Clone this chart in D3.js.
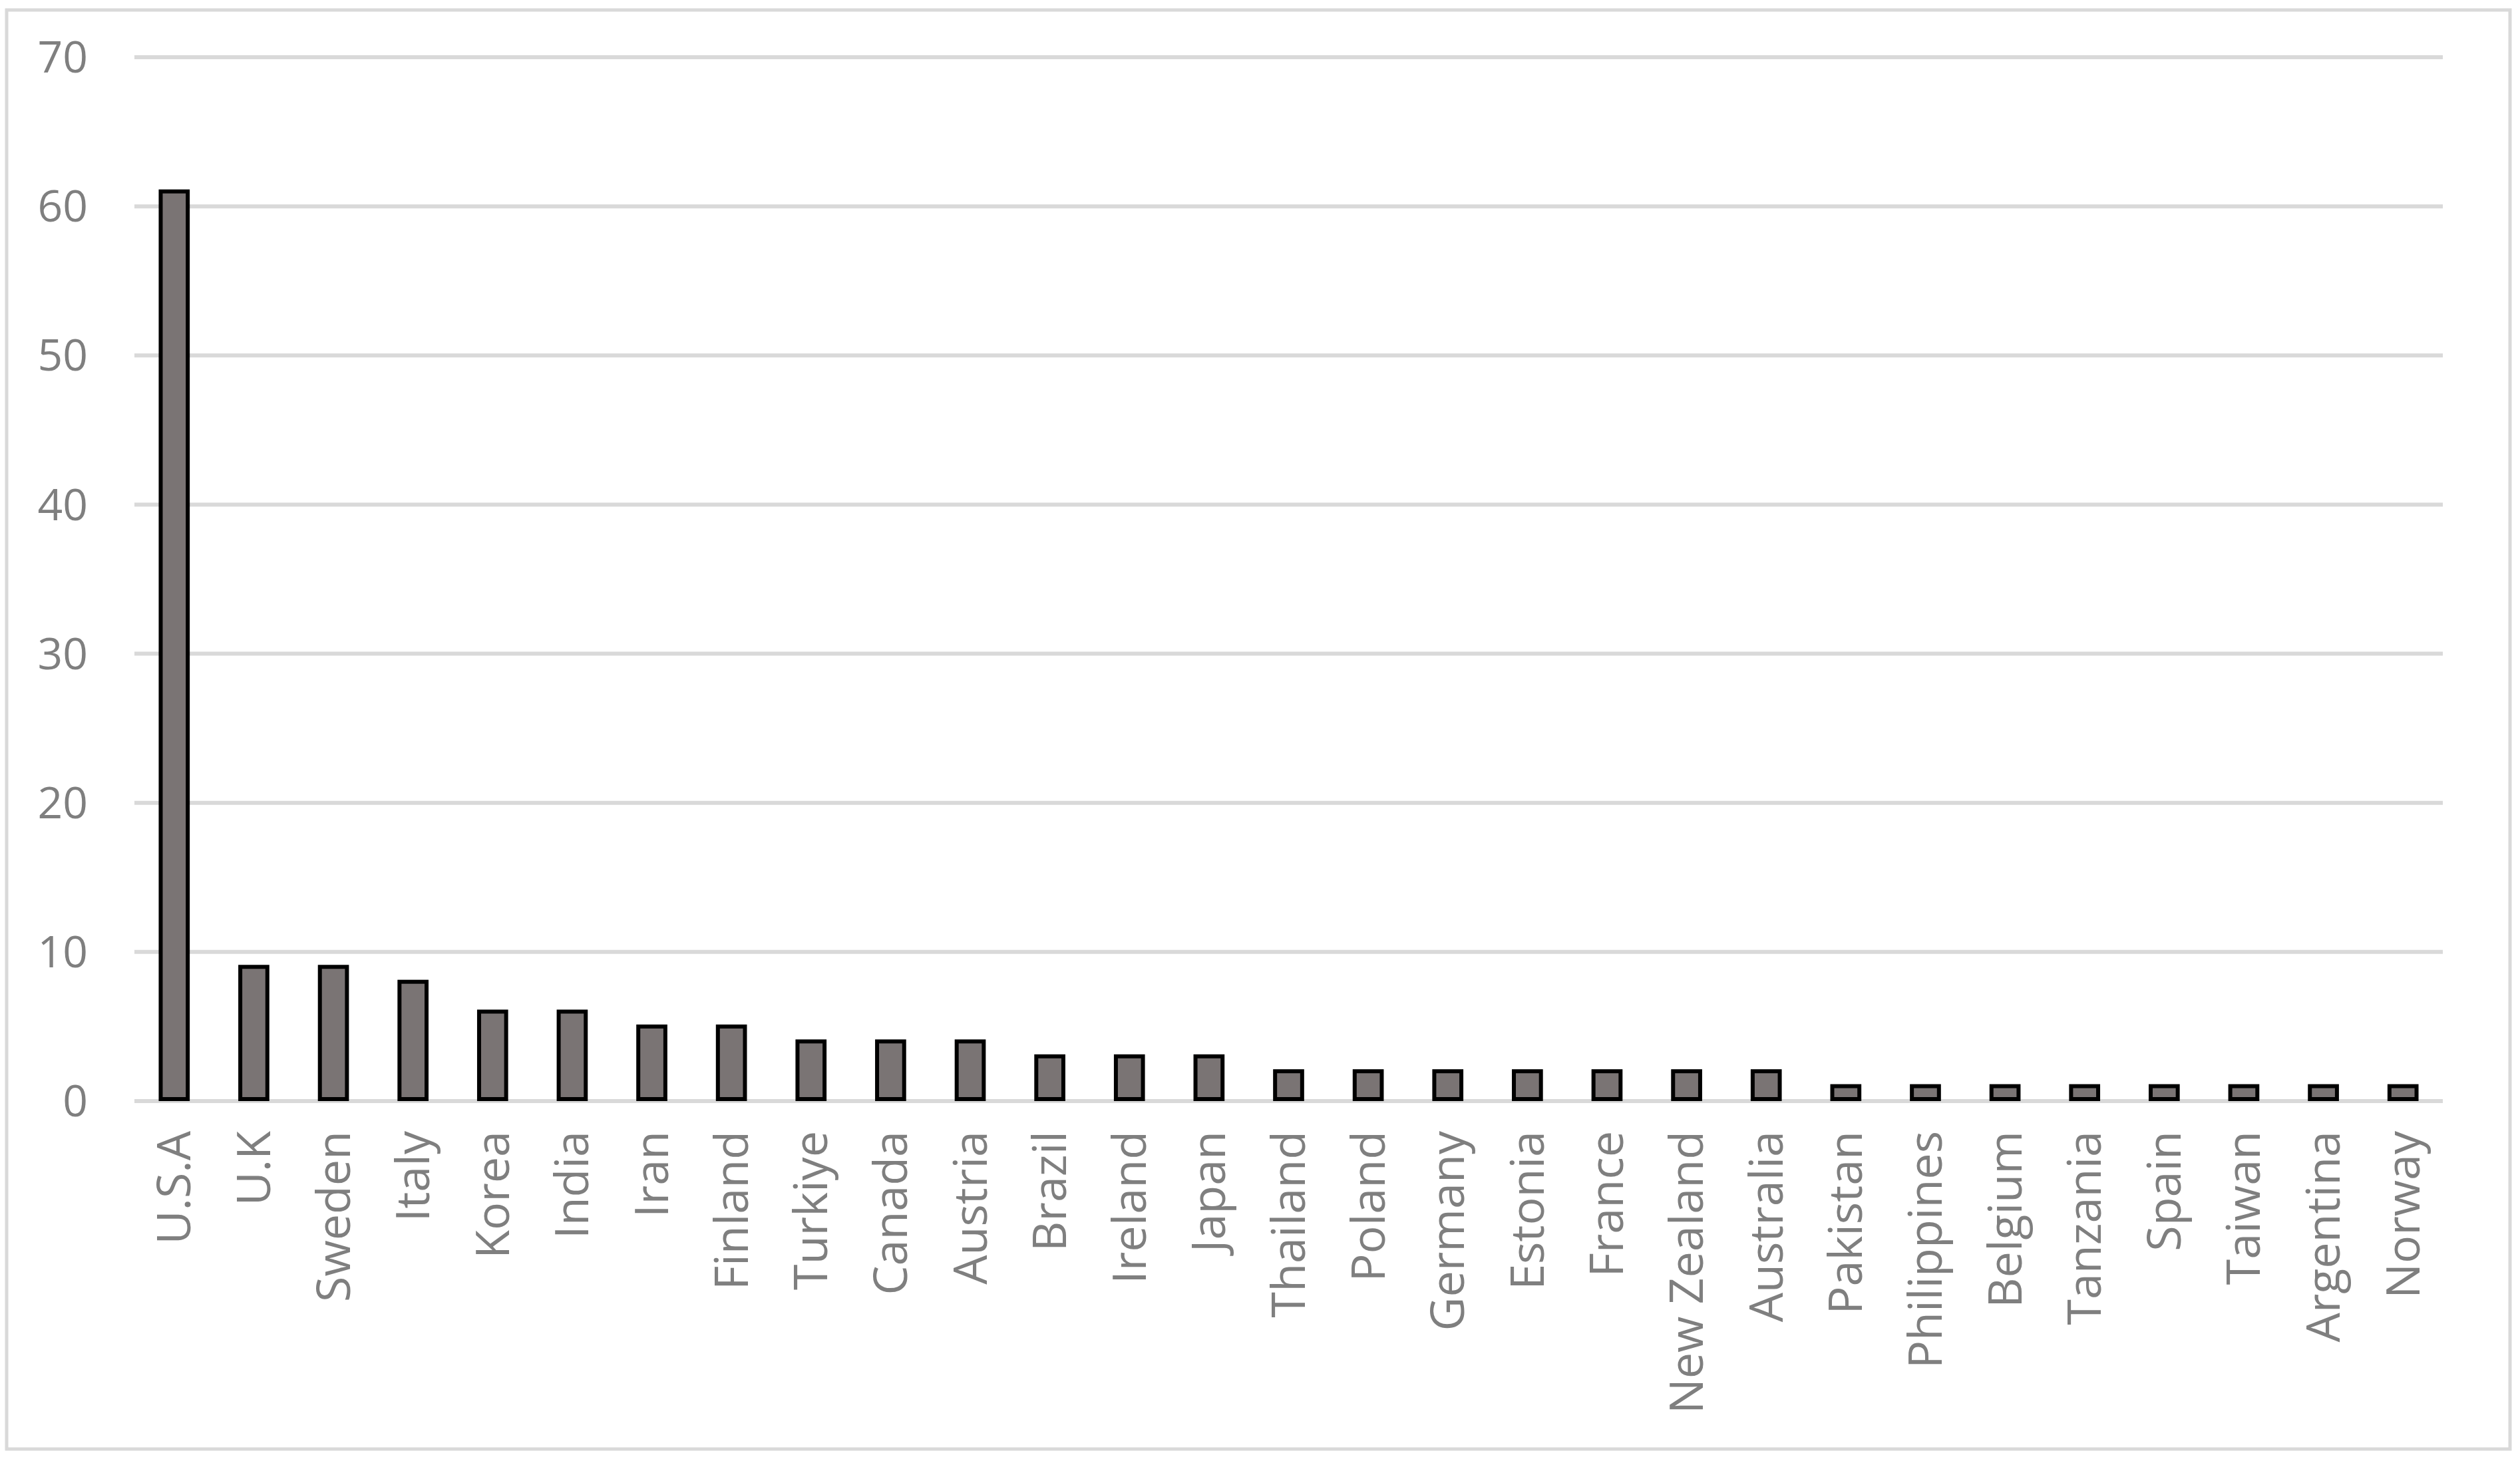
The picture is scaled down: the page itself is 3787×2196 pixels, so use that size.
<!DOCTYPE html>
<html>
<head>
<meta charset="utf-8">
<script src="https://cdn.jsdelivr.net/npm/d3@7"></script>
<style>
  body { margin: 0; background: #fff; }
  text { font-family: "Open Sans", "Liberation Sans", sans-serif; fill: #7f7f7f; }
</style>
</head>
<body>
<svg id="chart" width="3787" height="2196"></svg>
<script>
var countries = ["U.S.A", "U.K", "Sweden", "Italy", "Korea", "India", "Iran", "Finland", "Turkiye", "Canada",
  "Austria", "Brazil", "Ireland", "Japan", "Thailand", "Poland", "Germany", "Estonia", "France", "New Zealand",
  "Australia", "Pakistan", "Philippines", "Belgium", "Tanzania", "Spain", "Taiwan", "Argentina", "Norway"];
var counts = [61, 9, 9, 8, 6, 6, 5, 5, 4, 4, 4, 3, 3, 3, 2, 2, 2, 2, 2, 2, 2, 1, 1, 1, 1, 1, 1, 1, 1];
var yTicks = [0, 10, 20, 30, 40, 50, 60, 70];

var svg = d3.select("#chart");

// chart border
svg.append("rect")
    .attr("x", 10).attr("y", 15)
    .attr("width", 3762).attr("height", 2163)
    .attr("fill", "none").attr("stroke", "#d9d9d9").attr("stroke-width", 5);

var plotLeft = 202, plotRight = 3671, plotTop = 86, plotBottom = 1655;

var x = d3.scaleBand().domain(countries).range([plotLeft, plotRight]).paddingInner(0.66).paddingOuter(0.33);
var y = d3.scaleLinear().domain([0, 70]).range([plotBottom, plotTop]);

// gridlines
svg.append("g").selectAll("line")
  .data(yTicks)
  .enter().append("line")
    .attr("x1", plotLeft).attr("x2", plotRight)
    .attr("y1", function(d) { return y(d); })
    .attr("y2", function(d) { return y(d); })
    .attr("stroke", "#d9d9d9").attr("stroke-width", 6);

// y labels
svg.append("g").selectAll("text")
  .data(yTicks)
  .enter().append("text")
    .attr("x", 132)
    .attr("y", function(d) { return y(d); })
    .attr("dy", "0.35em")
    .attr("text-anchor", "end")
    .style("font-size", "66px")
    .text(function(d) { return d; });

// bars
svg.append("g").selectAll("rect")
  .data(counts)
  .enter().append("rect")
    .attr("x", function(d, i) { return x(countries[i]); })
    .attr("y", function(d) { return y(d); })
    .attr("width", x.bandwidth())
    .attr("height", function(d) { return plotBottom - 3 - y(d); })
    .attr("fill", "#7a7474")
    .attr("stroke", "#000").attr("stroke-width", 6);

// category labels
svg.append("g").selectAll("text")
  .data(countries)
  .enter().append("text")
    .attr("transform", function(d) {
      return "translate(" + (x(d) + x.bandwidth() / 2) + "," + (plotBottom + 45) + ") rotate(-90)";
    })
    .attr("dy", "0.35em")
    .attr("text-anchor", "end")
    .style("font-size", "70px")
    .text(function(d) { return d; });
</script>
</body>
</html>
